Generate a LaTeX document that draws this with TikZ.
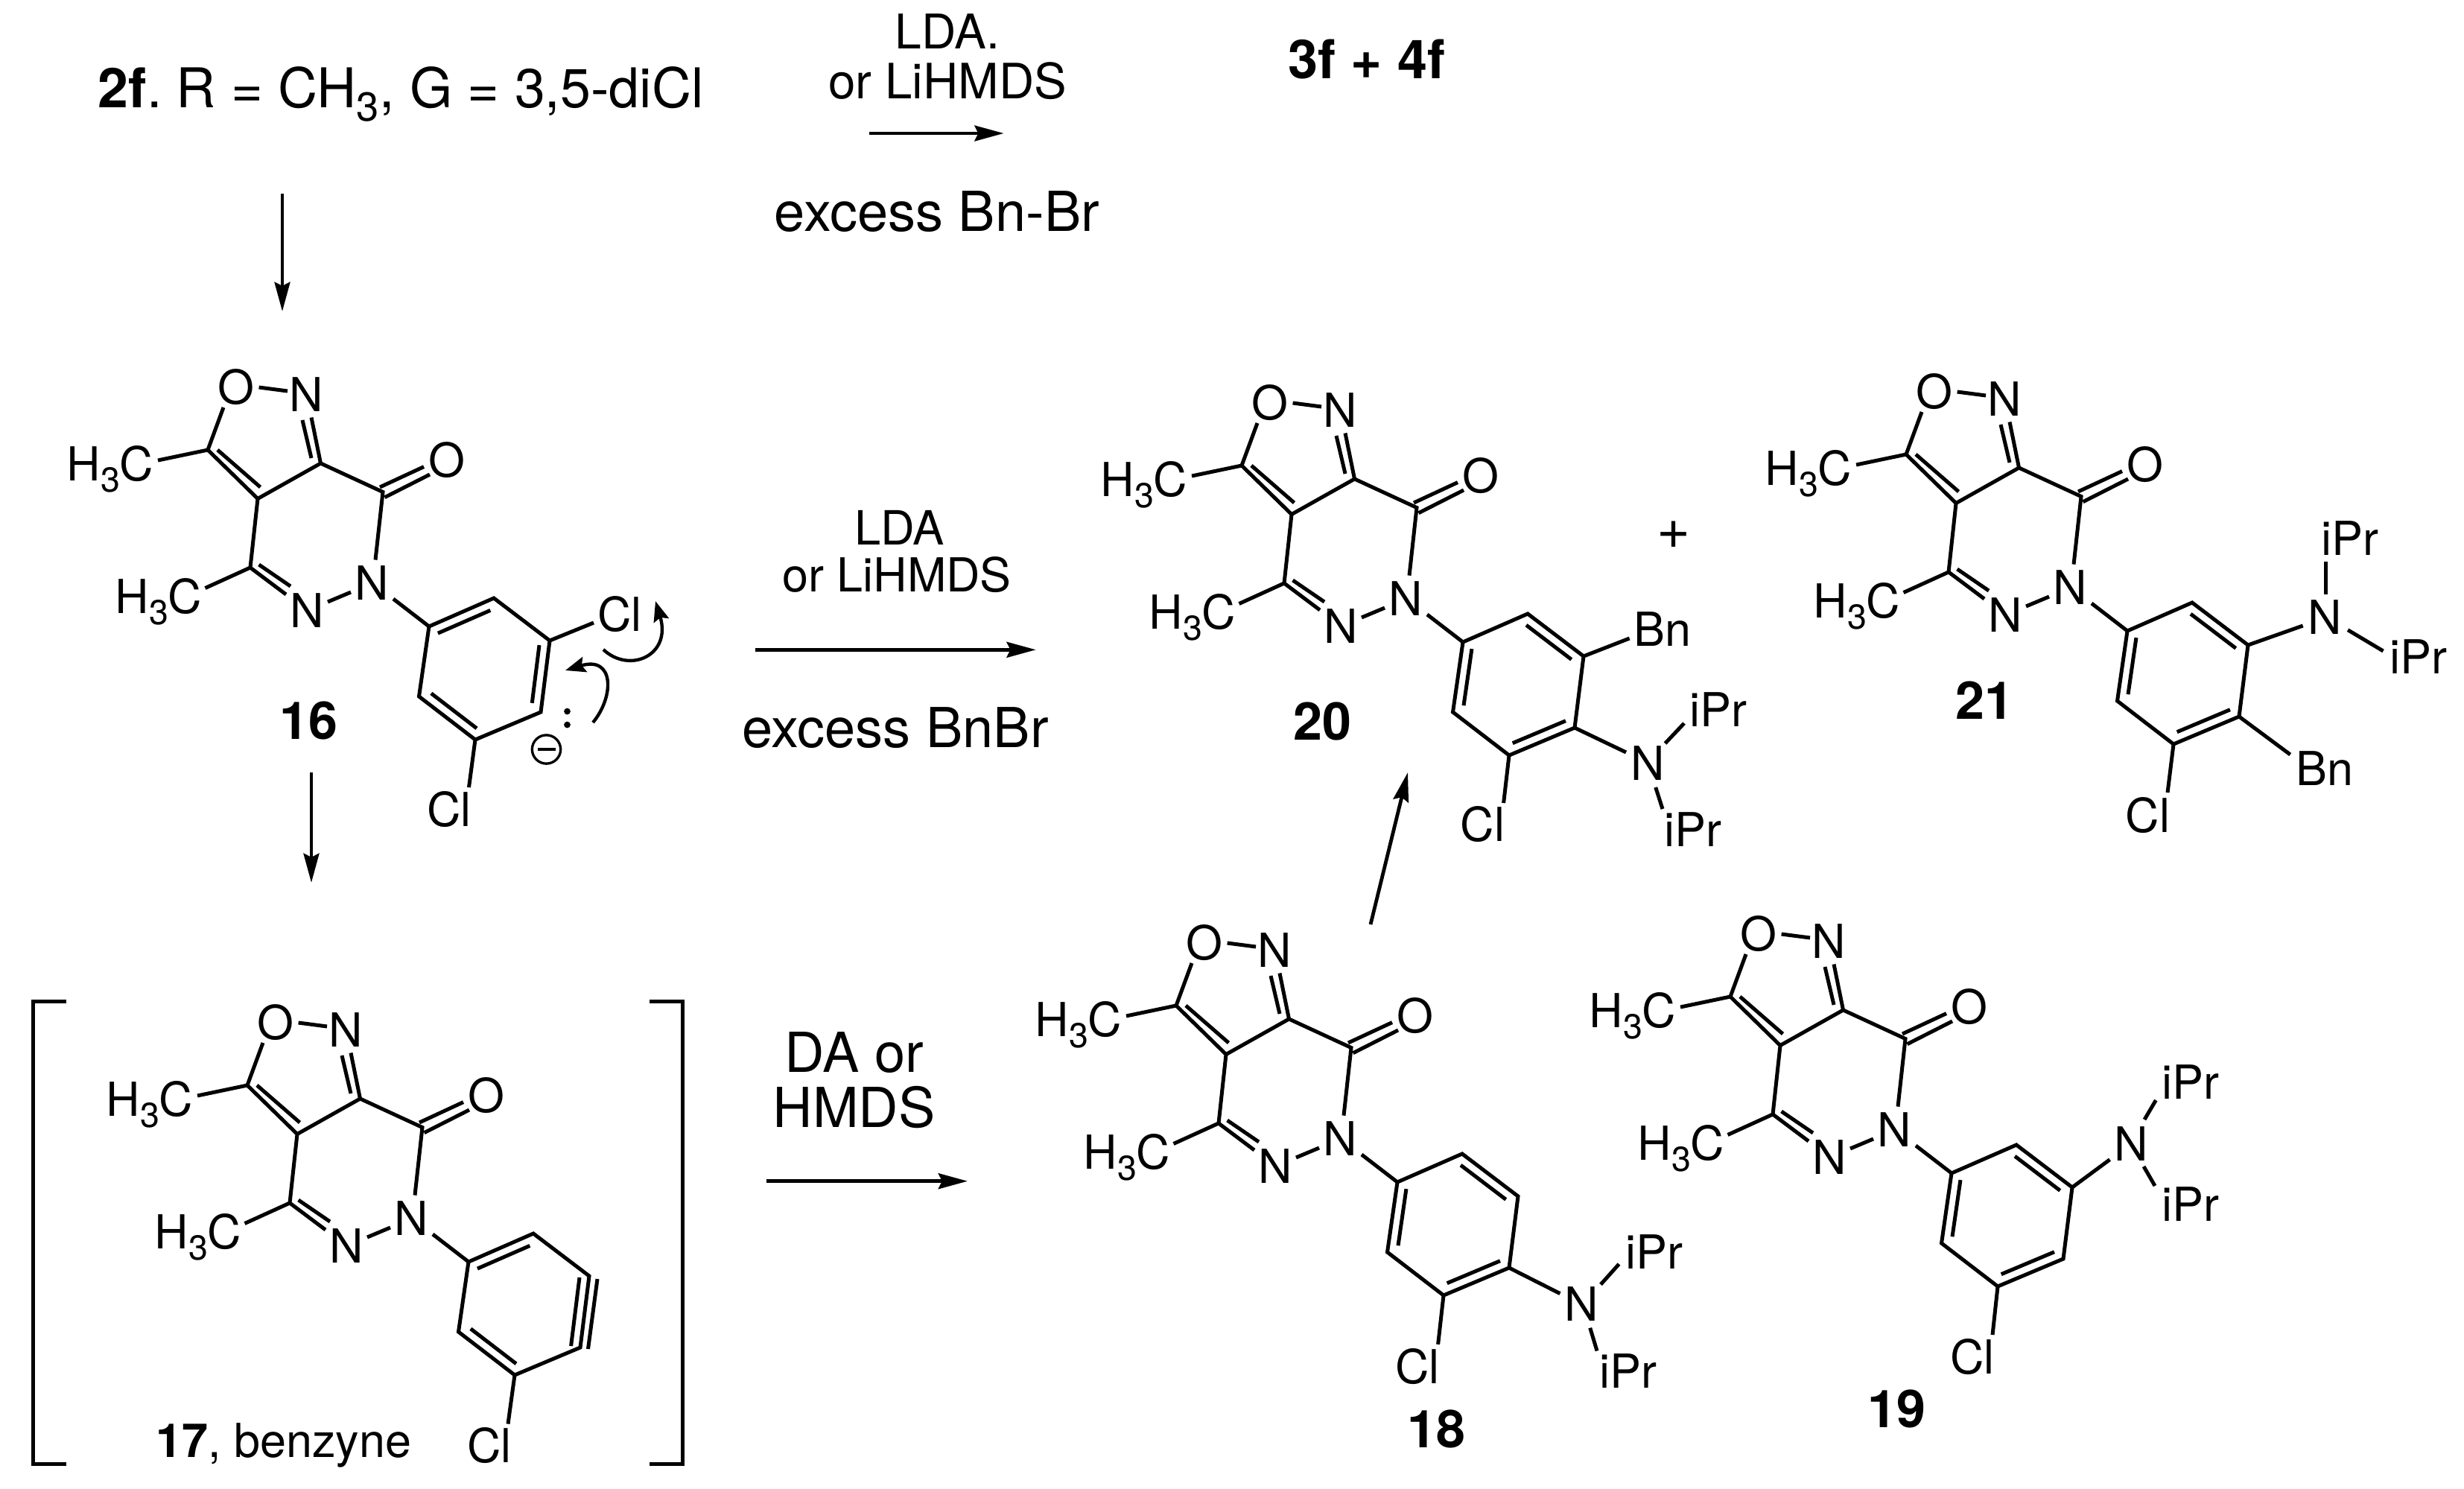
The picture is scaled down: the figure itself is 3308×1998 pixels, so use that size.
\documentclass[tikz,border=0pt]{standalone}
\usepackage{fontspec}
\usepackage{graphicx}
\setmainfont{TeX Gyre Heros}
\usetikzlibrary{calc,arrows.meta}
\newcommand\sbsc[1]{\raisebox{-.25em}{\scalebox{.74}{#1}}}
\newcommand\fpx[1]{\fontsize{#1}{#1}\selectfont}
\tikzset{
  bond/.style={line width=1.2pt,line cap=butt,line join=miter},
  rxn/.style={line width=1.15pt,-{Stealth[length=9.4pt,width=5pt,inset=1.2pt]}},
  curly/.style={line width=1.05pt,-{Stealth[length=6.5pt,width=5pt,inset=1pt]}},
  atom/.style={inner sep=0pt,anchor=base,font=\fpx{15.1pt}},
  cmpd/.style={inner sep=0pt,anchor=base,font=\fpx{16.8pt}\bfseries},
  reag/.style={inner sep=0pt,anchor=base,font=\fpx{15.2pt}},
  reagbig/.style={inner sep=0pt,anchor=base,font=\fpx{17.75pt}},
}
% the shared bicyclic core and the aryl hexagon
\newcommand\molcore[3]{%
\begin{scope}[shift={(#2,#3)}]
  \node[atom] (#1O) at (317,542) {O};
  \node[atom] (#1Na) at (411,552) {N};
  \node[atom] (#1Oc) at (599.5,640) {O};
  \node[atom] (#1Nb) at (499,805) {N};
  \node[atom] (#1Nd) at (412.5,842) {N};
  \node[atom] (#1Mea) at (148,645) {H\sbsc{3}C};
  \node[atom] (#1Meb) at (213,823) {H\sbsc{3}C};
  \coordinate (#1Cc) at (279,604);
  \coordinate (#1Cb) at (346,669.5);
  \coordinate (#1Ca) at (430.5,622);
  \coordinate (#1CO) at (514,660.5);
  \coordinate (#1CM) at (336,762);
  \coordinate (#1ip) at (576,841);
  \coordinate (#1Ar2) at (663,803);
  \coordinate (#1Ar3) at (738,860);
  \coordinate (#1Ar4) at (726,956);
  \coordinate (#1Ar5) at (638,993);
  \coordinate (#1Ar6) at (562.5,935);
  \coordinate (#1ce) at (650.5,898);
  \coordinate (#1xOc) at (300,547);
  \coordinate (#1xOn) at (347.6,520);
  \coordinate (#1xNo) at (386,525);
  \coordinate (#1xNa) at (418,560.5);
  \coordinate (#1xNai) at (406,564);
  \coordinate (#1xCai) at (418,615);
  \coordinate (#1xCci) at (292,604);
  \coordinate (#1xCbi) at (349.5,654);
  \coordinate (#1xMea) at (212,618);
  \coordinate (#1xMeb) at (275.5,789.5);
  \coordinate (#1xNd) at (384,798);
  \coordinate (#1xCMi) at (347.6,758);
  \coordinate (#1xNdi) at (390,787);
  \coordinate (#1xNb) at (504,751.6);
  \coordinate (#1xNdn) at (440,808);
  \coordinate (#1xNbn) at (471,795);
  \coordinate (#1xNbi) at (528,804);
  \coordinate (#1xOa1) at (516.5,667.7);
  \coordinate (#1xOa2) at (577,637);
  \coordinate (#1xOb1) at (510,654);
  \coordinate (#1xOb2) at (569,626.6);
\end{scope}
\draw[bond] (#1xOc) -- (#1Cc) -- (#1Cb) -- (#1CM) -- (#1xNd);
\draw[bond] (#1Cb) -- (#1Ca) -- (#1CO) -- (#1xNb);
\draw[bond] (#1Ca) -- (#1xNa);
\draw[bond] (#1xNai) -- (#1xCai);
\draw[bond] (#1xCci) -- (#1xCbi);
\draw[bond] (#1Cc) -- (#1xMea);
\draw[bond] (#1CM) -- (#1xMeb);
\draw[bond] (#1xCMi) -- (#1xNdi);
\draw[bond] (#1xOn) -- (#1xNo);
\draw[bond] (#1xNdn) -- (#1xNbn);
\draw[bond] (#1xNbi) -- (#1ip);
\draw[bond] (#1xOa1) -- (#1xOa2);
\draw[bond] (#1xOb1) -- (#1xOb2);
\draw[bond] (#1ip) -- (#1Ar2) -- (#1Ar3) -- (#1Ar4) -- (#1Ar5) -- (#1Ar6) -- cycle;
}
\newcommand\dbl[3]{\draw[bond,shorten >=.7pt] ($(#1#2)!.16!(#1ce)$) -- ($(#1#3)!.16!(#1ce)$);}
\begin{document}
\begin{tikzpicture}[x=.24pt,y=-.24pt]
\useasboundingbox (0,0) rectangle (3308,1998);

% --- top row
\node[inner sep=0pt,anchor=base west,font=\fpx{17.65pt}] (top) at (131,144) {\textbf{2f}.\hspace{-2pt} R = CH\sbsc{3}, G = 3,5-diCl};
\node[reag,font=\fpx{15.4pt}] (ta) at (1272,65.4) {LDA.};
\node[reag,font=\fpx{15.7pt}] (tb) at (1272,132) {or LiHMDS};
\node[reagbig] (tc) at (1258,310) {excess Bn-Br};
\node[cmpd,font=\fpx{17.3pt}\bfseries] (tp) at (1835,105.7) {3f + 4f};
\coordinate (a1s) at (1167,179);
\coordinate (a1e) at (1347.6,179);
\draw[rxn] (a1s) -- (a1e);
\coordinate (a2s) at (379,260);
\coordinate (a2e) at (379,418);
\draw[rxn] (a2s) -- (a2e);

% --- 16
\molcore{a}{0}{0}
\dbl{a}{ip}{Ar2}\dbl{a}{Ar3}{Ar4}\dbl{a}{Ar5}{Ar6}
\node[atom] (aCl) at (832,847) {Cl};
\node[atom] (aClb) at (603,1109.6) {Cl};
\coordinate (axCl) at (797,836);
\coordinate (axClb) at (629.5,1057);
\draw[bond] (aAr3) -- (axCl);
\draw[bond] (aAr5) -- (axClb);
\node[cmpd] (l16) at (414,992.7) {16};
\node[draw,circle,line width=.8pt,minimum size=9.2pt,inner sep=0pt] (minus) at (733.5,1006) {};
\draw[line width=1pt] ($(minus.center)+(-12,0)$) -- ($(minus.center)+(12,0)$);
\fill (761.5,955) circle (1.05pt);
\fill (761.5,973) circle (1.05pt);
\coordinate (c1s) at (810,872);
\coordinate (c1e) at (880,807);
\coordinate (c2s) at (796,970);
\coordinate (c2e) at (759,900);
\draw[curly] (c1s) .. controls (845,905) and (902,880) .. (c1e);
\draw[curly] (c2s) .. controls (825,935) and (825,880) .. (c2e);
\coordinate (a3s) at (418,1037);
\coordinate (a3e) at (418,1185);
\draw[rxn] (a3s) -- (a3e);

% --- conditions 16 -> 20
\node[reag,font=\fpx{15.2pt}] (ma) at (1207.5,731.7) {LDA};
\node[reag,font=\fpx{15.1pt}] (mb) at (1204,794) {or LiHMDS};
\node[reagbig] (mc) at (1202,1003) {excess BnBr};
\coordinate (a4s) at (1014,872.3);
\coordinate (a4e) at (1390.7,872.3);
\draw[rxn] (a4s) -- (a4e);

% --- 17
\draw[bond] (89,1344.6) -- (44.6,1344.6) -- (44.6,1965) -- (89,1965);
\draw[bond] (872,1344.6) -- (916,1344.6) -- (916,1965) -- (872,1965);
\molcore{b}{53}{853}
\dbl{b}{ip}{Ar2}\dbl{b}{Ar5}{Ar6}
\coordinate (bt1) at (802,1717);
\coordinate (bt2) at (789.5,1811);
\coordinate (bt3) at (778,1715);
\coordinate (bt4) at (766.6,1807);
\draw[bond] (bt1) -- (bt2);
\draw[bond] (bt3) -- (bt4);
\node[atom] (bCl) at (657,1963) {Cl};
\coordinate (bxCl) at (682,1911.6);
\draw[bond] (bAr5) -- (bxCl);
\node[atom] (l17) at (381,1956) {\textbf{17}, benzyne};

% --- conditions 17 -> 18
\node[reagbig] (da) at (1147,1439) {DA or};
\node[reagbig] (db) at (1146.5,1513) {HMDS};
\coordinate (a5s) at (1029,1585.7);
\coordinate (a5e) at (1299,1585.7);
\draw[rxn] (a5s) -- (a5e);

% --- 18
\molcore{c}{1300}{746}
\dbl{c}{ip}{Ar6}\dbl{c}{Ar2}{Ar3}\dbl{c}{Ar4}{Ar5}
\node[atom] (cN) at (2123.5,1773.5) {N};
\node[atom] (ciPa) at (2221,1703.4) {iPr};
\node[atom] (ciPb) at (2185.5,1863.5) {iPr};
\node[atom] (cCl) at (1903,1857) {Cl};
\coordinate (cxN) at (2094.4,1736.6);
\coordinate (cxa1) at (2149,1724.4);
\coordinate (cxa2) at (2173.5,1697);
\coordinate (cxb1) at (2134.7,1782.7);
\coordinate (cxb2) at (2144,1813.5);
\coordinate (cxCl) at (1930.6,1804.8);
\draw[bond] (cAr4) -- (cxN);
\draw[bond] (cxa1) -- (cxa2);
\draw[bond] (cxb1) -- (cxb2);
\draw[bond] (cAr5) -- (cxCl);
\node[cmpd] (l18) at (1928.5,1943) {18};

% --- arrow 18 -> 20
\coordinate (a6s) at (1840,1241);
\coordinate (a6e) at (1890,1037);
\draw[rxn] (a6s) -- (a6e);

% --- 19
\molcore{d}{2044}{734}
\dbl{d}{ip}{Ar6}\dbl{d}{Ar2}{Ar3}\dbl{d}{Ar4}{Ar5}
\node[atom] (dN) at (2861,1558.6) {N};
\node[atom] (diPa) at (2940.7,1475) {iPr};
\node[atom] (diPb) at (2940.7,1639.7) {iPr};
\node[atom] (dCl) at (2648,1844.4) {Cl};
\coordinate (dxN) at (2832.5,1556.7);
\coordinate (dxa1) at (2879,1503);
\coordinate (dxa2) at (2894.3,1477);
\coordinate (dxb1) at (2878,1566);
\coordinate (dxb2) at (2893,1592);
\coordinate (dxCl) at (2675,1792);
\draw[bond] (dAr3) -- (dxN);
\draw[bond] (dxa1) -- (dxa2);
\draw[bond] (dxb1) -- (dxb2);
\draw[bond] (dAr5) -- (dxCl);
\node[cmpd] (l19) at (2546,1916) {19};

% --- 20
\molcore{e}{1388}{21}
\dbl{e}{ip}{Ar6}\dbl{e}{Ar2}{Ar3}\dbl{e}{Ar4}{Ar5}
\node[atom] (eBn) at (2232,867.5) {Bn};
\node[atom] (eN) at (2212,1047) {N};
\node[atom] (eiPa) at (2307,975.5) {iPr};
\node[atom] (eiPb) at (2273,1136) {iPr};
\node[atom] (eCl) at (1990.5,1129.6) {Cl};
\coordinate (exBn) at (2187.6,857);
\coordinate (exN) at (2183,1010);
\coordinate (exa1) at (2235.5,998);
\coordinate (exa2) at (2261,971);
\coordinate (exb1) at (2222.7,1057);
\coordinate (exb2) at (2232,1086);
\coordinate (exCl) at (2018.6,1078);
\draw[bond] (eAr3) -- (exBn);
\draw[bond] (eAr4) -- (exN);
\draw[bond] (exa1) -- (exa2);
\draw[bond] (exb1) -- (exb2);
\draw[bond] (eAr5) -- (exCl);
\node[cmpd] (l20) at (1775,993) {20};
\node[atom,font=\fpx{18.5pt}] (plus) at (2247,736) {+};

% --- 21
\molcore{f}{2280}{6}
\dbl{f}{ip}{Ar6}\dbl{f}{Ar2}{Ar3}\dbl{f}{Ar4}{Ar5}
\node[atom] (fN) at (3121,851.8) {N};
\node[atom] (fiPa) at (3154.6,745.4) {iPr};
\node[atom] (fiPb) at (3247,904) {iPr};
\node[atom] (fBn) at (3121,1054) {Bn};
\node[atom] (fCl) at (2883.5,1117) {Cl};
\coordinate (fxN) at (3091.7,840);
\coordinate (fxa1) at (3122,753.6);
\coordinate (fxa2) at (3122,798);
\coordinate (fxb1) at (3152,845.7);
\coordinate (fxb2) at (3199.5,874);
\coordinate (fxBn) at (3074.7,1013);
\coordinate (fxCl) at (2910,1064);
\draw[bond] (fAr3) -- (fxN);
\draw[bond] (fxa1) -- (fxa2);
\draw[bond] (fxb1) -- (fxb2);
\draw[bond] (fAr4) -- (fxBn);
\draw[bond] (fAr5) -- (fxCl);
\node[cmpd] (l21) at (2664,965) {21};
\end{tikzpicture}
\end{document}
